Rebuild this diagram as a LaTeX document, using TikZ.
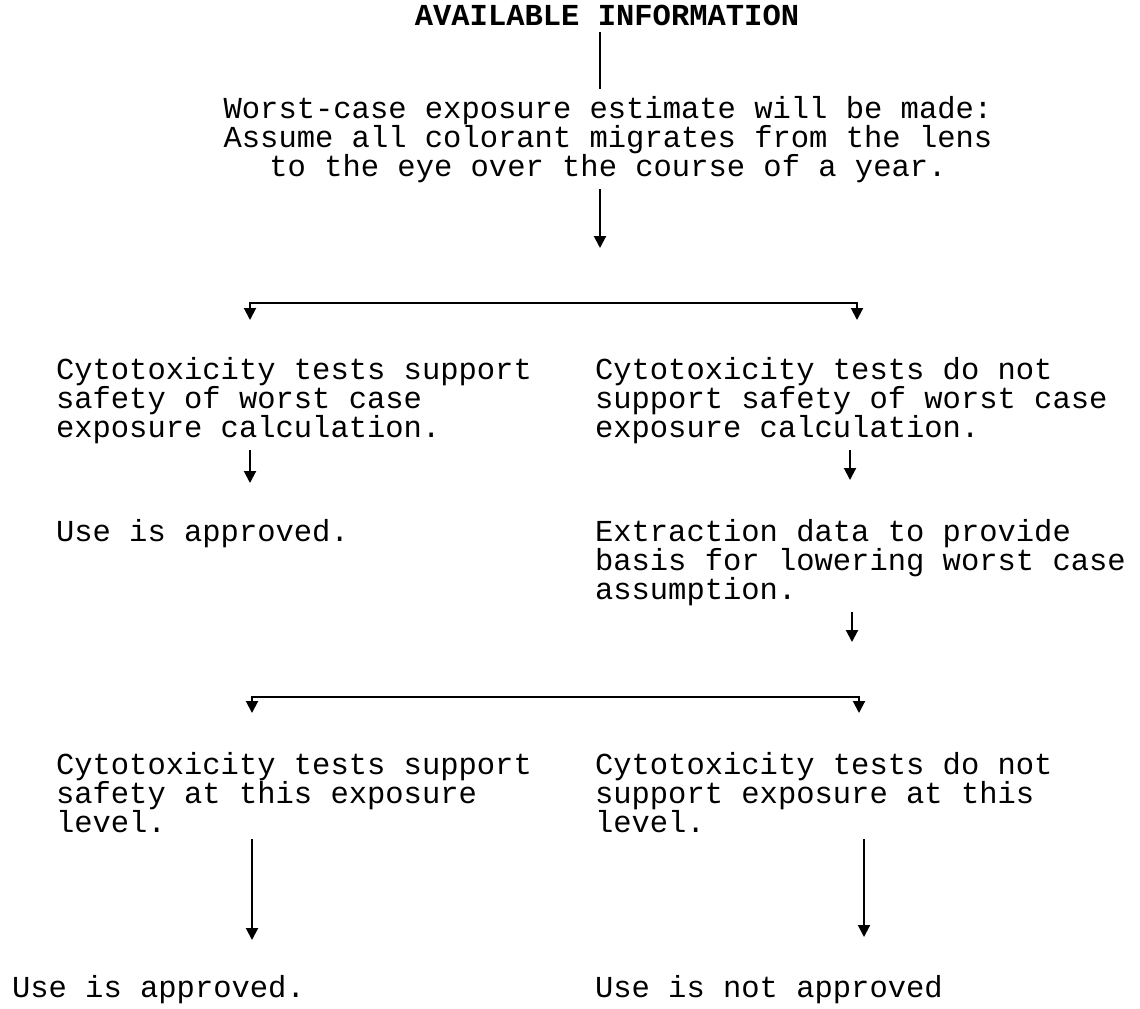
\documentclass[tikz,border=0pt]{standalone}
\usepackage{fontspec}
\setmainfont{Liberation Mono}
\usetikzlibrary{arrows.meta}

\begin{document}
\begin{tikzpicture}[x=0.5pt, y=-0.5pt, line width=1pt,
        >={Triangle[length=6pt, width=6pt]},
        font=\fontsize{15.25}{14.5}\selectfont,
        every node/.style={inner sep=3pt}]
        \useasboundingbox (0,0) rectangle (1140,1008);
        \node[anchor=base, font=\fontsize{15.25}{14.5}\selectfont\bfseries] (INFO) at (607,25) {
            AVAILABLE INFORMATION
        };
        \node[anchor=base, align=center] (WORST) at (608,176) {
            Worst-case exposure estimate will be made:\\Assume all colorant migrates from the lens\\to the eye over the course of a year.
        };
        \node[anchor=base west, align=left] (SWORST) at (49,437) {
            Cytotoxicity tests support\\safety of worst case\\exposure calculation.
        };
        \node[anchor=base west, align=left] (NWORST) at (588,437) {
            Cytotoxicity tests do not\\support safety of worst case\\exposure calculation.
        };
        \node[anchor=base west] (OK1) at (49,541) {
            Use is approved.
        };
        \node[anchor=base west, align=left] (EXTRACT) at (588,599) {
            Extraction data to provide\\basis for lowering worst case\\assumption.
        };
        \node[anchor=base west, align=left] (SLEVEL) at (49,832) {
            Cytotoxicity tests support\\safety at this exposure\\level.
        };
        \node[anchor=base west, align=left] (NLEVEL) at (588,832) {
            Cytotoxicity tests do not\\support exposure at this\\level.
        };
        \node[anchor=base west] (OK2) at (5,997) {
            Use is approved.
        };
        \node[anchor=base west] (NOTOK) at (588,997) {
            Use is not approved
        };
        \coordinate (EST) at (600,248);
        \coordinate (BAR1L) at (250,303);
        \coordinate (BAR1R) at (857,303);
        \coordinate (TIP1L) at (250,320);
        \coordinate (TIP1R) at (857,320);
        \coordinate (SWEND) at (250,483);
        \coordinate (NWEND) at (850,480);
        \coordinate (EXEND) at (852,642);
        \coordinate (BAR2L) at (252,697);
        \coordinate (BAR2R) at (859,697);
        \coordinate (TIP2L) at (252,713);
        \coordinate (TIP2R) at (859,713);
        \coordinate (SLEND) at (252,940);
        \coordinate (NLEND) at (864,937);
        \draw (INFO.south -| EST) -- (WORST.north -| EST);
        \draw[->] (WORST.south -| EST) -- (EST);
        \draw[<->] (TIP1L) -- (BAR1L) -- (BAR1R) -- (TIP1R);
        \draw[->] (SWORST.south -| SWEND) -- (SWEND);
        \draw[->] (NWORST.south -| NWEND) -- (NWEND);
        \draw[->] (EXTRACT.south -| EXEND) -- (EXEND);
        \draw[<->] (TIP2L) -- (BAR2L) -- (BAR2R) -- (TIP2R);
        \draw[->] (SLEVEL.south -| SLEND) -- (SLEND);
        \draw[->] (NLEVEL.south -| NLEND) -- (NLEND);
\end{tikzpicture}
\end{document}
